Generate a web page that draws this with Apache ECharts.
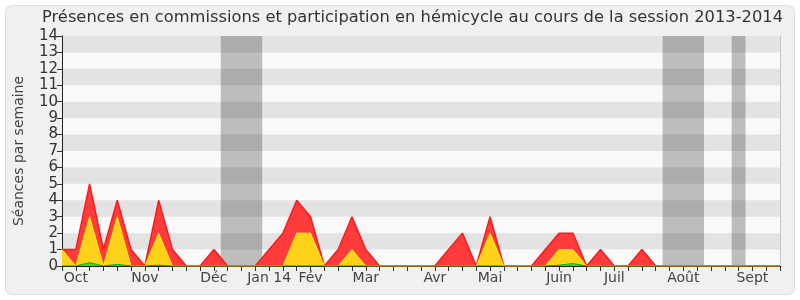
<!DOCTYPE html>
<html><head><meta charset="utf-8">
<script src="https://cdn.jsdelivr.net/npm/echarts@6/dist/echarts.min.js"></script>
<style>html,body{margin:0;padding:0;background:#fff}#c{width:800px;height:300px}</style>
</head><body><div id="c"></div>
<script>
// 53 weekly points of the 2013-2014 session
const weeks = ["1","2","3","4","5","6","7","8","9","10","11","12","13","14","15","16","17","18","19","20",
  "21","22","23","24","25","26","27","28","29","30","31","32","33","34","35","36","37","38","39","40",
  "41","42","43","44","45","46","47","48","49","50","51","52","53"];
// month tick labels (week index -> label)
const monthIdx = [1, 6, 11, 15, 18, 22, 27, 31, 36, 40, 45, 50];
const monthLabels = ["Oct","Nov","Déc","Jan 14","Fév","Mar","Avr","Mai","Juin","Juil","Août","Sept"];
// stacked layers (bottom to top)
const green = [0,0,0.2,0,0.1,0,0,0.05,0,0,
  0,0,0,0,0,0,0,0,0,0,
  0,0,0,0,0,0,0,0,0,0,
  0,0,0,0,0,0,0.05,0.15,0,0,
  0,0,0,0,0,0,0,0,0,0,
  0,0,0];
const yellow = [1,0,2.8,0,2.9,0,0,1.95,0,0,
  0,0,0,0,0,0,0,2,2,0,
  0,1,0,0,0,0,0,0,0,0,
  0,2,0,0,0,0,0.95,0.85,0,0,
  0,0,0,0,0,0,0,0,0,0,
  0,0,0];
const red = [0,1,2,1,1,1,0,2,1,0,
  0,1,0,0,0,1,2,2,1,0,
  1,2,1,0,0,0,0,0,1,2,
  0,1,0,0,0,1,1,1,0,1,
  0,0,1,0,0,0,0,0,0,0,
  0,0,0];
// vacation periods (in week positions)
const vacations = [[11.5, 14.5], [43.5, 46.5], [48.5, 49.5]];
const yMax = 14;

const labelMap = {};
monthIdx.forEach((i, k) => labelMap[i] = monthLabels[k]);
const stripes = [];
for (let v = 1; v < yMax; v += 2) stripes.push([{yAxis: v}, {yAxis: v + 1}]);

const chart = echarts.init(document.getElementById('c'), null, {renderer: 'canvas'});
chart.setOption({
  animation: false,
  backgroundColor: '#ffffff',
  textStyle: {fontFamily: 'DejaVu Sans'},
  graphic: [{
    type: 'rect', z: -100, silent: true,
    shape: {x: 5.5, y: 5.5, width: 789, height: 289, r: 6},
    style: {fill: '#f0f0f0', stroke: '#dcdcdc', lineWidth: 1}
  }],
  title: {
    text: 'Présences en commissions et participation en hémicycle au cours de la session 2013-2014',
    left: 37, top: 5,
    textStyle: {fontSize: 16.3, fontWeight: 'normal', color: '#333', fontFamily: 'DejaVu Sans'}
  },
  grid: {left: 62, right: 20, top: 36, bottom: 34, show: true, backgroundColor: '#f9f9f9', borderWidth: 0},
  xAxis: [{
    type: 'category', data: weeks, boundaryGap: false,
    axisLine: {lineStyle: {color: '#222', width: 1}},
    axisTick: {show: true, interval: 0, length: 5, lineStyle: {color: '#333'}},
    axisLabel: {
      interval: (i) => labelMap[i] !== undefined,
      formatter: (v, i) => labelMap[i] || '',
      fontSize: 14, color: '#444', margin: 5
    },
    splitLine: {show: false}
  }, {
    type: 'value', min: 0, max: weeks.length - 1, interval: 1, position: 'top',
    axisLine: {show: false},
    axisTick: {show: true, inside: true, length: 1, lineStyle: {color: '#000'}},
    axisLabel: {show: false}, splitLine: {show: false}
  }],
  yAxis: [{
    type: 'value', min: 0, max: yMax, interval: 1,
    name: 'Séances par semaine', nameLocation: 'middle', nameGap: 36,
    nameTextStyle: {fontSize: 14, color: '#444'},
    axisLine: {show: true, lineStyle: {color: '#222'}},
    axisTick: {show: true, length: 5, lineStyle: {color: '#333'}},
    axisLabel: {fontSize: 15, color: '#333', margin: 4},
    splitLine: {show: false}
  }, {
    type: 'value', min: 0, max: yMax, position: 'right',
    axisLine: {show: true, lineStyle: {color: '#c4c4c4'}},
    axisTick: {show: false}, axisLabel: {show: false}, splitLine: {show: false}
  }],
  series: [
    {type: 'line', xAxisIndex: 1, data: [], z: 1, silent: true,
      markArea: {silent: true, itemStyle: {color: '#bdbdbd'},
        data: vacations.map(v => [{xAxis: v[0]}, {xAxis: v[1]}])}},
    {type: 'line', data: [], z: 1.5, silent: true,
      markArea: {silent: true, itemStyle: {color: 'rgba(0,0,0,0.085)'}, data: stripes}},
    {name: 'g', type: 'line', stack: 't', data: green, symbol: 'none', z: 6,
      lineStyle: {color: '#00b000', width: 1}, areaStyle: {color: '#33dd33', opacity: 1}},
    {name: 'y', type: 'line', stack: 't', data: yellow, symbol: 'none', z: 5,
      lineStyle: {color: '#ffee00', width: 1}, areaStyle: {color: '#ffd21a', opacity: 1}},
    {name: 'r', type: 'line', stack: 't', data: red, symbol: 'none', z: 4,
      lineStyle: {color: '#ff1a1a', width: 1.5}, areaStyle: {color: '#ff3b3b', opacity: 1}}
  ]
});
</script></body></html>
